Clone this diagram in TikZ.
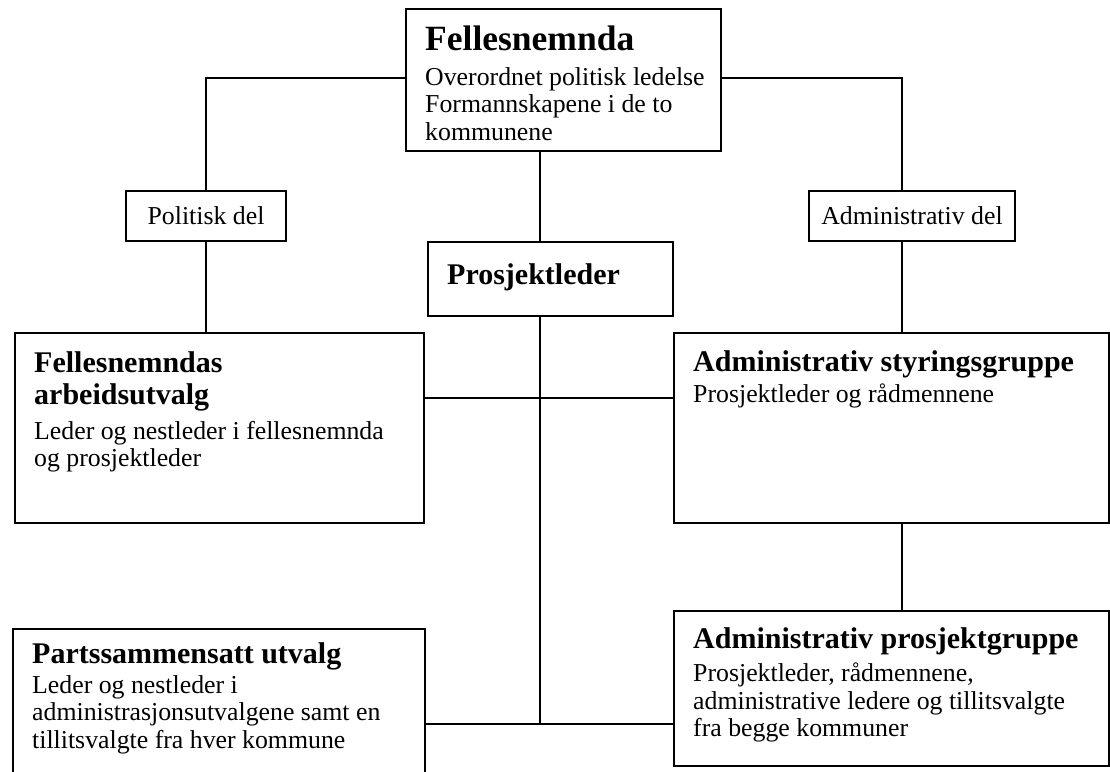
\documentclass[tikz,border=0pt]{standalone}
\usepackage{fontspec}
\setmainfont{Liberation Serif}
\begin{document}
\begin{tikzpicture}[x=1pt,y=-1pt,
  box/.style={draw, line width=1.8pt, inner sep=0pt, anchor=north west},
  lbox/.style={draw, line width=1.8pt, inner sep=0pt, anchor=center, font=\fontsize{25.8}{27.5}\selectfont},
  conn/.style={line width=1.8pt},
  ttl/.style={font=\fontsize{35.5}{38}\selectfont\bfseries, anchor=base west, inner sep=0pt},
  sub/.style={font=\fontsize{30}{32}\selectfont\bfseries, inner sep=0pt, align=left},
  txt/.style={font=\fontsize{25.8}{27.5}\selectfont, inner sep=0pt, align=left},
]
\useasboundingbox[fill=white] (0,0) rectangle (1110,771);
% boxes
\node[box, minimum width=315pt, minimum height=142pt] (top) at (405,8) {};
\node[lbox, minimum width=160pt, minimum height=50pt] (pol) at (206,216) {Politisk del};
\node[lbox, minimum width=206pt, minimum height=50pt] (adm) at (912,216) {Administrativ del};
\node[box, minimum width=245pt, minimum height=74pt] (pl) at (427,241) {};
\node[box, minimum width=409pt, minimum height=190pt] (fa) at (14,332) {};
\node[box, minimum width=435pt, minimum height=190pt] (as) at (673,332) {};
\node[box, minimum width=435pt, minimum height=155pt] (ap) at (673,610) {};
\node[box, minimum width=412pt, minimum height=175pt] (ps) at (12,628) {};
% texts
\node[ttl] (toptitle) at (425,50) {Fellesnemnda};
\node[txt, anchor=north west] (toptext) at (425,67) {Overordnet politisk ledelse\\Formannskapene i de to\\kommunene};
\node[sub, anchor=base west] (pltitle) at (447,284) {Prosjektleder};
\node[sub, anchor=north west] (fatitle) at (34,351) {Fellesnemndas\\arbeidsutvalg};
\node[txt, anchor=north west] (fatext) at (34,421) {Leder og nestleder i fellesnemnda\\og prosjektleder};
\node[sub, anchor=base west] (astitle) at (693,371) {Administrativ styringsgruppe};
\node[txt, anchor=base west] (astext) at (693,402) {Prosjektleder og rådmennene};
\node[sub, anchor=base west] (aptitle) at (693,648) {Administrativ prosjektgruppe};
\node[txt, anchor=north west] (aptext) at (693,663) {Prosjektleder, rådmennene,\\administrative ledere og tillitsvalgte\\fra begge kommuner};
\node[sub, anchor=base west] (pstitle) at (32,663) {Partssammensatt utvalg};
\node[txt, anchor=north west] (pstext) at (32,675) {Leder og nestleder i\\administrasjonsutvalgene samt en\\tillitsvalgte fra hver kommune};
% helper coordinates
\coordinate (cx) at (540,0);
\coordinate (rx) at (902,0);
\coordinate (mid) at (0,398);
\coordinate (bot) at (0,724);
% connectors
\draw[conn] ([yshift=-70pt]top.north west) -| (pol.north);
\draw[conn] ([yshift=-70pt]top.north east) -| (adm.north -| rx);
\draw[conn] (top.south -| cx) -- (pl.north -| cx);
\draw[conn] (pl.south -| cx) -- (cx |- bot);
\draw[conn] (pol.south) -- (pol.south |- fa.north);
\draw[conn] (adm.south -| rx) -- (as.north -| rx);
\draw[conn] (fa.east |- mid) -- (as.west |- mid);
\draw[conn] (as.south -| rx) -- (ap.north -| rx);
\draw[conn] (ps.east |- bot) -- (ap.west |- bot);
\end{tikzpicture}
\end{document}
